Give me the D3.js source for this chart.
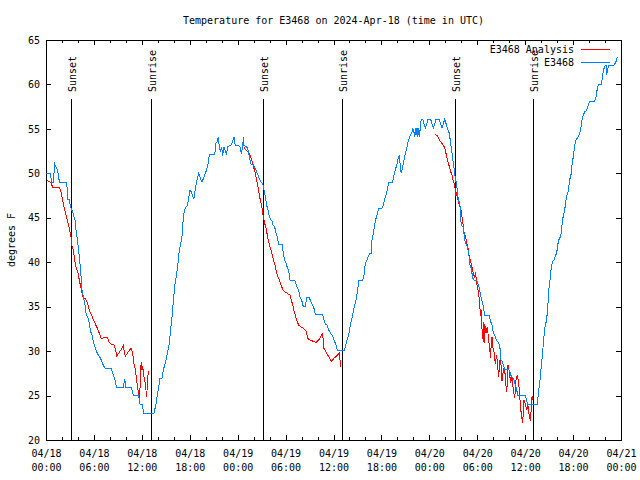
<!DOCTYPE html>
<html><head><meta charset="utf-8">
<script src="https://cdn.jsdelivr.net/npm/d3@7"></script>
<style>
html,body{margin:0;padding:0;background:#fff;}
svg text{font-family:"DejaVu Sans Mono","Liberation Mono",monospace;font-size:10px;fill:#000;}
</style></head>
<body>
<script>
// Times are hours since 2024-04-18 00:00 UTC; temperatures in degrees F.
const obsData = [[0,50.0],[0.58,50.0],[0.67,49.0],[0.92,49.0],[1.09,51.05],[1.25,50.75],[1.42,50.4],[1.59,49.6],[1.67,49.0],[2.59,49.0],[2.67,47.9],[2.75,47.1],[2.92,47.1],[3.0,46.6],[3.17,45.95],[3.34,45.7],[3.51,45.1],[3.67,44.6],[3.76,43.6],[3.92,42.6],[4.09,41.4],[4.17,40.6],[4.34,39.1],[4.42,38.0],[4.51,36.9],[4.67,36.1],[4.84,35.45],[5.01,34.25],[5.26,33.7],[5.43,33.1],[5.59,32.2],[5.76,31.8],[5.93,31.06],[6.18,30.3],[6.43,29.75],[6.68,29.4],[6.93,29.0],[7.18,28.4],[7.43,28.0],[8.18,28.0],[8.35,27.5],[8.6,26.9],[8.85,25.9],[9.68,25.9],[9.85,26.9],[10.02,25.9],[10.68,25.9],[10.94,25.0],[11.52,25.0],[11.69,24.6],[11.77,24.05],[12.1,24.05],[12.19,23.0],[13.52,23.0],[13.77,24.05],[13.94,25.0],[14.11,26.0],[14.27,26.9],[14.52,26.9],[14.69,27.9],[14.86,28.4],[15.03,29.0],[15.19,29.75],[15.44,30.9],[15.61,32.4],[15.78,33.9],[15.94,35.6],[16.11,37.25],
[16.36,38.75],[16.53,39.9],[16.7,41.4],[16.86,42.1],[17.03,42.9],[17.2,45.1],[17.36,45.9],[17.53,46.2],[17.7,46.4],[17.86,47.2],[18.03,48.1],[18.2,47.9],[18.37,47.4],[18.53,47.15],[18.7,48.3],[18.87,49.1],[19.12,50.0],[19.28,49.6],[19.53,49.0],[19.7,49.4],[19.95,50.0],[20.12,50.4],[20.29,51.1],[20.45,52.1],[21.12,52.1],[21.29,53.4],[21.45,53.6],[21.58,54.1],[21.7,53.0],[21.87,52.4],[21.99,53.0],[22.12,52.0],[22.29,53.0],[22.46,52.55],[22.62,52.1],[22.71,53.0],[22.96,53.1],[23.21,53.2],[23.37,53.6],[23.54,54.1],[23.71,53.1],[24.12,53.1],[24.29,53.0],[24.46,52.2],[24.63,53.0],[24.71,54.1],[24.79,53.1],[25.13,53.0],[25.29,52.6],[25.46,51.95],[25.63,51.05],[25.96,51.0],[26.21,50.55],[26.46,50.0],[26.71,49.4],[26.96,48.95],[27.13,48.9],[27.3,48.1],[27.46,47.4],[27.63,46.4],[27.8,45.9],[27.96,45.1],[28.13,44.8],[28.3,44.6],[28.47,44.1],[28.63,44.0],[28.8,43.25],[28.97,42.8],[29.13,42.05],[29.55,42.05],[29.72,41.0],[29.88,40.25],[30.05,39.9],[30.22,39.4],[30.39,39.1],[30.55,38.0],[31.14,38.0],[31.3,37.6],[31.47,37.1],[31.64,36.9],[31.8,36.1],[32.05,35.6],[32.22,35.0],[32.47,35.0],[32.64,36.05],[32.97,36.05],[33.14,35.6],[33.39,35.2],[33.56,34.8],[33.72,34.1],[34.64,34.1],[34.81,33.5],[34.98,33.05],[35.23,32.9],[35.39,32.4],[35.64,32.0],[35.89,31.7],[36.06,31.25],[36.31,30.7],[36.48,30.05],[37.31,30.05],[37.48,30.5],[37.65,31.1],[37.9,31.8],
[38.15,33.1],[38.32,33.7],[38.48,34.4],[38.65,35.2],[38.82,35.75],[38.99,36.6],[39.15,37.9],[39.65,37.9],[39.82,38.6],[39.99,39.95],[40.15,40.05],[40.32,40.6],[40.57,41.0],[40.74,41.0],[40.82,42.5],[40.99,43.25],[41.16,44.3],[41.32,44.9],[41.49,45.5],[41.66,46.06],[42.07,46.06],[42.24,46.4],[42.41,47.1],[42.58,47.6],[42.74,48.1],[42.91,48.95],[43.08,49.0],[43.41,49.0],[43.58,49.8],[43.74,50.4],[43.91,50.9],[44.08,51.6],[44.24,52.1],[44.33,51.1],[44.41,50.4],[44.49,50.0],[44.66,50.75],[44.83,51.5],[44.99,52.25],[45.16,52.8],[45.33,53.56],[45.5,53.94],[45.66,54.4],[45.83,54.6],[45.91,55.06],[46.08,54.6],[46.16,54.05],[46.33,55.06],[46.5,54.05],[46.58,55.06],[46.75,54.05],[46.92,55.6],[47.0,56.08],[47.17,56.08],[47.33,55.55],[47.5,55.1],[47.67,55.55],[47.83,56.08],[48.17,56.08],[48.33,55.55],[48.5,55.1],[48.67,55.55],[48.84,56.08],[49.25,56.08],[49.42,55.55],[49.59,55.1],[49.75,55.55],[49.92,56.08],[50.09,55.6],[50.25,55.1],[50.5,54.5],[50.67,53.4],[50.84,52.25],[50.92,51.7],[51.09,50.6],[51.17,50.2],[51.26,49.25],[51.42,48.9],
[51.51,47.75],[51.67,47.0],[51.84,46.4],[51.92,45.1],[52.01,44.1],[52.26,44.0],[52.42,42.5],[52.59,42.05],[52.76,41.75],[52.93,41.0],[53.09,39.7],[53.26,39.3],[53.34,38.75],[53.43,38.2],[53.59,38.0],[53.93,38.0],[54.09,37.6],[54.26,37.1],[54.43,36.3],[54.6,35.6],[54.76,35.0],[54.93,34.0],[55.51,34.0],[55.68,33.3],[55.85,32.94],[56.01,32.1],[56.18,31.8],[56.35,31.4],[56.51,31.06],[56.68,30.95],[56.85,30.3],[56.93,29.0],[57.1,28.9],[57.27,28.4],[57.43,27.95],[57.93,27.95],[58.1,27.7],[58.27,27.1],[58.43,27.05],[58.6,26.75],[58.77,26.2],[58.94,25.6],[59.1,25.0],[60.02,25.0],[60.19,24.5],[60.27,24.0],[61.52,24.0],
[61.69,25.6],[61.86,26.75],[62.03,28.4],[62.19,29.75],[62.28,31.06],[62.44,32.4],[62.53,32.94],[62.69,33.5],[62.86,35.4],[62.94,36.7],[63.11,38.0],[63.19,38.75],[63.28,39.5],[63.44,40.06],[63.61,40.25],[63.78,40.7],[63.94,41.0],[64.11,42.1],[64.28,42.7],[64.45,42.9],[64.61,44.2],[64.78,45.3],[64.95,45.7],[65.03,46.6],[65.2,47.4],[65.36,47.9],[65.45,48.5],[65.61,49.4],[65.78,50.0],[65.86,50.9],[66.03,51.9],[66.2,53.1],[66.37,53.75],[66.62,54.1],[66.78,54.4],[66.95,54.95],[67.12,56.0],[67.28,56.56],[67.45,56.9],[67.7,57.1],[67.87,57.6],[68.04,58.06],[68.7,58.06],[68.87,58.6],[69.04,59.56],[69.2,60.05],[69.54,60.05],[69.71,61.06],[69.79,61.6],[69.96,62.0],[70.12,62.2],[70.21,61.06],[70.29,61.6],[70.46,62.1],[71.04,62.1],[71.21,62.3],[71.37,62.56],[71.54,63.05],[71.62,63.1]];

const analysisDay1 = [[0.08,49.25],[0.67,48.9],[0.83,48.4],[1.67,48.4],[1.84,48.1],[2.0,47.4],[2.17,46.6],[2.34,45.9],[2.5,45.3],[2.67,44.7],[2.84,44.2],[3.0,43.4],[3.17,42.7],[3.26,41.75],[3.42,41.4],[3.59,40.25],[3.76,39.5],[4.01,38.75],[4.17,38.0],[4.34,37.25],[4.51,36.5],[4.67,36.05],[4.92,35.9],[5.18,35.4],[5.43,34.6],[5.68,34.1],[5.93,33.5],[6.26,32.9],[6.51,32.4],[6.76,31.8],[6.93,31.4],[7.26,31.55],[7.68,31.55],[7.93,30.95],[8.18,30.8],[8.51,30.7],[8.68,30.3],[8.85,29.45],[9.1,29.75],[9.43,30.2],[9.68,30.6],[9.93,29.4],[10.18,29.75],[10.43,30.1],[10.68,30.3],[10.85,29.75],[11.02,28.6],[11.19,27.9],[11.35,26.75],[11.52,25.6],[11.69,24.6],[11.77,25.8],[11.85,27.9],[11.94,28.8],[12.02,27.9],[12.1,28.3],[12.27,27.1],[12.44,26.4],[12.6,24.8],[12.69,26.2],[12.81,27.8]];

const analysisDay2 = [[24.79,52.9],[25.04,52.6],[25.29,52.4],[25.54,52.06],[25.71,51.6],[25.88,51.1],[26.04,50.56],[26.21,50.0],[26.38,49.25],[26.55,48.5],[26.71,47.56],[26.88,46.8],[27.05,46.06],[27.21,45.1],[27.38,44.4],[27.55,43.8],[27.71,43.06],[27.88,42.3],[28.05,41.75],[28.22,41.2],[28.38,40.6],[28.55,40.06],[28.72,39.5],[28.88,38.75],[29.13,38.2],[29.38,37.6],[29.63,36.95],[29.88,36.7],[30.22,36.5],[30.55,36.3],[30.72,35.75],[30.89,35.2],[31.05,34.55],[31.22,34.06],[31.39,33.5],[31.64,32.9],[31.89,32.75],[32.22,32.56],[32.55,32.3],[32.81,31.4],[33.06,31.25],[33.47,31.1],[33.81,30.95],[34.14,31.25],[34.39,31.6],[34.64,32.0],[34.81,30.3],[35.14,29.75],[35.48,29.3],[35.73,28.85],[36.06,29.2],[36.4,29.45],[36.73,29.75],[36.81,29.0],[36.9,28.25]];

const analysisDay3 = [[48.75,54.4],[49.0,54.2],[49.17,53.94],[49.34,53.67],[49.5,53.45],[49.67,53.3],[49.84,53.0],[50.0,52.6],[50.17,51.9],[50.34,51.3],[50.5,50.75],[50.67,50.2],[50.84,49.8],[51.0,49.1],[51.17,48.7],[51.26,48.1],[51.34,47.5],[51.42,47.9],[51.51,47.4],[51.67,46.6],[51.84,46.25],[51.92,45.7],[52.01,45.9],[52.09,45.1],[52.26,44.0],[52.34,43.4],[52.51,42.9],[52.67,42.3],[52.84,41.6],[53.01,40.6],[53.18,40.06],[53.34,39.5],[53.51,38.75],[53.68,38.2],[53.76,38.9],[53.84,38.4],[53.93,37.6],[54.09,36.9],[54.26,35.9],[54.34,34.8],[54.43,33.9],[54.51,34.6],[54.6,32.4],[54.68,31.4],[54.76,33.3],[54.85,30.9],[54.93,33.1],[55.1,32.0],[55.26,32.75],[55.43,31.25],[55.6,29.9],[55.68,29.2],[55.76,31.25],[55.85,31.6],[55.93,30.5],[56.1,29.9],[56.26,28.6],[56.43,29.55],[56.6,27.9],[56.68,27.1],[56.85,29.0],[57.02,28.25],[57.1,26.6],[57.27,27.9],[57.43,28.25],[57.52,26.75],[57.68,25.4],[57.77,26.4],[57.85,28.45],[58.02,27.7],[58.18,26.4],[58.35,27.1],[58.52,25.6],[58.69,24.7],[58.85,26.75],[59.02,27.3],[59.19,26.4],[59.35,24.5],[59.52,22.8],[59.69,21.9],[59.85,24.5],[60.02,24.1],[60.19,23.4],[60.35,23.9],[60.52,22.6],[60.69,22.1],[60.77,24.1],[60.86,24.9],[60.94,24.5]];

const sunEventHours = [3.17, 13.19, 27.21, 37.1, 51.26, 61.02];
const sunEventLabels = ["Sunset","Sunrise","Sunset","Sunrise","Sunset","Sunrise"];

const xTickHours = [0,6,12,18,24,30,36,42,48,54,60,66,72];
const xTickLabels = [["04/18","00:00"],["04/18","06:00"],["04/18","12:00"],["04/18","18:00"],["04/19","00:00"],["04/19","06:00"],["04/19","12:00"],["04/19","18:00"],["04/20","00:00"],["04/20","06:00"],["04/20","12:00"],["04/20","18:00"],["04/21","00:00"]];
const yTicks = [20,25,30,35,40,45,50,55,60,65];

const seriesNames = ["E3468 Analysis","E3468"];
const seriesColors = ["#ff0000","#0080ff"];
const titleText = "Temperature for E3468 on 2024-Apr-18 (time in UTC)";
const yLabel = "degrees F";

const L=46, R=621, T=40, B=440;
const svg = d3.select("body").append("svg").attr("width",640).attr("height",480);
const x = d3.scaleLinear().domain([0,72]).range([L,R]);
const y = d3.scaleLinear().domain([20,65]).range([B,T]);

const minorHours = d3.range(0,73,2).filter(h => h%6!==0);

function axisG(gen, tx, ty){
  const g = svg.append("g").attr("transform",`translate(${tx},${ty})`).call(gen);
  g.select(".domain").remove();
  g.selectAll("line").attr("shape-rendering","crispEdges");
  return g;
}
axisG(d3.axisBottom(x).tickValues(xTickHours).tickSize(-5).tickFormat(""),0,B);
axisG(d3.axisBottom(x).tickValues(minorHours).tickSize(-3).tickFormat(""),0,B);
axisG(d3.axisTop(x).tickValues(xTickHours).tickSize(-5).tickFormat(""),0,T);
axisG(d3.axisTop(x).tickValues(minorHours).tickSize(-3).tickFormat(""),0,T);
const yl = axisG(d3.axisLeft(y).tickValues(yTicks).tickSize(-5).tickPadding(6),L,0);
yl.selectAll("text").attr("font-family",null).attr("font-size",null);
axisG(d3.axisRight(y).tickValues(yTicks).tickSize(-5).tickFormat(""),R,0);

svg.append("rect").attr("x",L+0.5).attr("y",T+0.5).attr("width",R-L).attr("height",B-T)
  .attr("fill","none").attr("stroke","#000").attr("stroke-width",1).attr("shape-rendering","crispEdges");

// x tick labels (two lines)
const xl = svg.append("g");
xTickHours.forEach((h,i)=>{
  const t = xl.append("text").attr("text-anchor","middle");
  t.append("tspan").attr("x",x(h)+0.5).attr("y",457).text(xTickLabels[i][0]);
  t.append("tspan").attr("x",x(h)+0.5).attr("y",471).text(xTickLabels[i][1]);
});

// title & y label
svg.append("text").attr("x",(L+R)/2).attr("y",24).attr("text-anchor","middle").text(titleText);
svg.append("text").attr("transform",`translate(14.5,${(T+B)/2}) rotate(-90)`).attr("text-anchor","middle").text(yLabel);

// sun events
sunEventHours.forEach((h,i)=>{
  const px = Math.round(x(h))+0.5;
  svg.append("line").attr("x1",px).attr("x2",px).attr("y1",99).attr("y2",B)
    .attr("stroke","#000").attr("stroke-width",1).attr("shape-rendering","crispEdges");
  svg.append("text").attr("transform",`translate(${px+1},92) rotate(-90)`)
    .attr("dominant-baseline","central").attr("text-anchor","start").text(sunEventLabels[i]);
});

const line = d3.line().x(d=>x(d[0])).y(d=>y(d[1]));
[analysisDay1, analysisDay2, analysisDay3].forEach(seg=>{
  svg.append("path").datum(seg).attr("d",line).attr("fill","none")
    .attr("stroke",seriesColors[0]).attr("stroke-width",1).attr("shape-rendering","crispEdges");
});
svg.append("path").datum(obsData).attr("d",line).attr("fill","none")
  .attr("stroke",seriesColors[1]).attr("stroke-width",1).attr("shape-rendering","crispEdges");

// legend
const lg = svg.append("g");
seriesNames.forEach((n,i)=>{
  const ly = 49.5 + i*13;
  lg.append("text").attr("x",574).attr("y",ly).attr("dominant-baseline","central").attr("text-anchor","end").text(n);
  lg.append("line").attr("x1",581).attr("x2",610).attr("y1",ly).attr("y2",ly)
    .attr("stroke",seriesColors[i]).attr("stroke-width",1).attr("shape-rendering","crispEdges");
});
</script>
</body></html>
